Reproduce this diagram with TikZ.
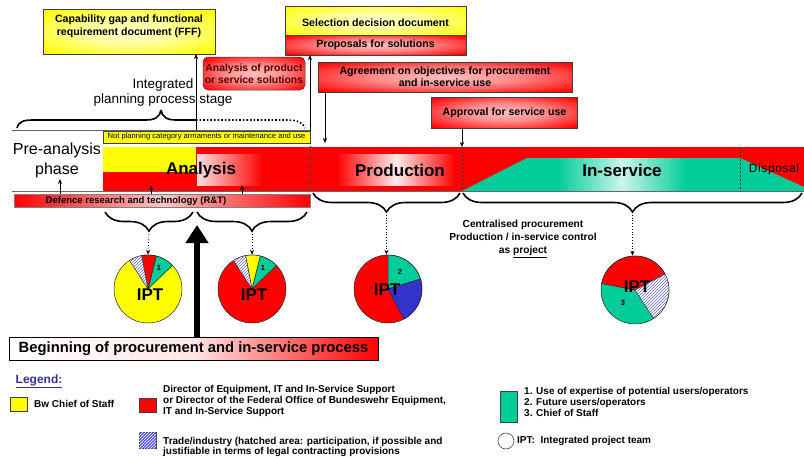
\documentclass[tikz,border=0pt]{standalone}
\usepackage{fontspec}
\setmainfont{Liberation Sans}
\usetikzlibrary{arrows.meta,decorations.pathreplacing,patterns,calc}
\definecolor{cred}{RGB}{255,0,0}
\definecolor{cyel}{RGB}{255,255,0}
\definecolor{cteal}{RGB}{0,204,153}
\definecolor{cblue}{RGB}{51,51,204}
\definecolor{chatch}{RGB}{100,100,190}
\definecolor{clegblue}{RGB}{51,51,153}
\definecolor{cdkred}{RGB}{80,0,0}
\pgfdeclareradialshading{glowy}{\pgfpoint{0bp}{0bp}}{color(0bp)=(cyel!20!white); color(14bp)=(cyel!40!white); color(34bp)=(cyel); color(50bp)=(cyel)}
\pgfdeclareradialshading{glowr}{\pgfpoint{0bp}{0bp}}{color(0bp)=(cred!25!white); color(14bp)=(cred!45!white); color(34bp)=(cred); color(50bp)=(cred)}
\newcommand{\fsz}[2]{\fontsize{#1}{#2}\selectfont}
\newcommand{\pslice}[4]{\filldraw[sl,#4] (#1) -- ++({-(#2)}:34) arc[start angle={-(#2)}, end angle={-(#3)}, radius=34] -- cycle;}
\begin{document}
\begin{tikzpicture}[x=1pt,y=-1pt,
  bx/.style={draw=black!75, line width=0.5pt, inner sep=0pt, outer sep=0pt},
  bt/.style={font=\bfseries\fsz{10.6}{12.5}, align=center, inner sep=0pt},
  lt/.style={font=\bfseries\fsz{10}{10.6}, align=left, inner sep=0pt, anchor=west},
  ylw/.style={shade, shading=glowy},
  rdg/.style={shade, shading=glowr},
  arr/.style={-{Stealth[length=5pt,width=4pt]}, line width=0.6pt},
  brc/.style={decorate, decoration={brace, mirror, amplitude=19pt}, line width=1.6pt},
  dotarr/.style={dotted, line width=0.8pt, -{Stealth[length=5pt,width=4pt]}},
  dsh/.style={dash pattern=on 2pt off 2pt, line width=0.5pt, black!80},
  sl/.style={draw=black!85, line width=0.5pt},
  ph/.style={font=\bfseries\fsz{17}{20}, inner sep=0pt},
  ipt/.style={font=\bfseries\fsz{17}{20}, inner sep=0pt},
  num/.style={font=\bfseries\fsz{7.5}{8}, inner sep=0pt},
  pie/.style={circle, minimum size=68pt, inner sep=0pt, draw=black!85, line width=0.5pt},
  hat/.style={fill=white, postaction={pattern=north east lines, pattern color=chatch}},
]
\useasboundingbox (0,0) rectangle (804,458);

% ---------- top boxes ----------
\node[bx, ylw, minimum width=172pt, minimum height=45pt] (fff) at (129,31.5) {};
\node[bt] (ffft) at (129,26.5) {Capability gap and functional\\requirement document (FFF)};

\node[bx, ylw, minimum width=181pt, minimum height=29pt] (sel) at (375.5,20.5) {};
\node[bt] (selt) at (375.5,23) {Selection decision document};
\node[bx, rdg, minimum width=181pt, minimum height=20pt] (prop) at (375.5,45) {\bfseries\fsz{10.6}{12}Proposals for solutions};

\node[bx, rdg, rounded corners=5pt, minimum width=102pt, minimum height=33pt, text=cdkred, font=\bfseries\fsz{10.4}{12}, align=center] (aps) at (254,73.5) {Analysis of product\\or service solutions};

\node[bx, rdg, minimum width=254pt, minimum height=30pt, font=\bfseries\fsz{10.6}{12}, align=center] (agr) at (445,77) {Agreement on objectives for procurement\\and in-service use};
\node[bx, rdg, minimum width=146pt, minimum height=31pt, font=\bfseries\fsz{10.6}{12}] (appr) at (504.5,112.5) {Approval for service use};

\node[font=\fsz{13.5}{15}, align=center, inner sep=0pt] (ipps) at (163,93) {Integrated\\planning process stage};

% top brace
\draw[line width=1.6pt] (17,128) .. controls (19,121) and (24,120) .. (34,120) -- (146,120) .. controls (155,120) and (160,117) .. (161,110);
\draw[line width=1.6pt] (161,110) .. controls (162,117) and (167,120) .. (176,120) -- (196,120);
\draw[line width=1.6pt, dotted] (196,120) -- (288,120) .. controls (298,120) and (303,123) .. (305,128);

% guide lines
\draw[black!60, line width=0.6pt] (12,130) -- (310,130);
\node[bx, fill=cyel, minimum width=207pt, minimum height=12pt, font=\fsz{7.6}{8}] (npc) at (206.5,137) {Not planning category armaments or maintenance and use};

% ---------- band ----------
\fill[cred] (103,147) rectangle (804,191);
\fill[cyel] (103,147) rectangle (196,172);
\shade[left color=red!12!white, right color=cred] (197,154) rectangle (263,185);
\shade[left color=cred, right color=cred, middle color=red!8!white] (337,154) rectangle (455,185);
\fill[cteal] (462,191) -- (527,158) -- (740,158) -- (740,191) -- cycle;
\shade[left color=cteal, right color=cteal, middle color=cteal!20!white] (557,158) rectangle (687,191);
\fill[cteal] (740,158) -- (804,187) -- (804,191) -- (740,191) -- cycle;
\draw[black!60, line width=0.6pt] (12,191) -- (804,191);
\draw[dsh] (310,130) -- (310,191);
\draw[dsh] (462,147) -- (462,191);
\draw[dsh] (740,147) -- (740,191);

\node[font=\fsz{16}{20}, align=center, inner sep=0pt] (pre) at (57,160) {Pre-analysis\\phase};
\node[ph] (ana) at (201,170) {Analysis};
\node[ph] (prod) at (400,170) {Production};
\node[ph] (insv) at (622,170) {In-service};
\node[font=\fsz{12}{14}\addfontfeature{LetterSpace=5}, inner sep=0pt] (disp) at (774,169) {Disposal};

% arrows from top boxes
\coordinate (c196) at (196,130);
\coordinate (c310) at (310,130);
\coordinate (c325) at (325,143);
\coordinate (c462) at (462,147);
\draw[arr] (c196) -- (c196 |- fff.south);
\draw[arr] (c310) -- (c310 |- prop.south);
\draw[arr] (agr.south -| c325) -- (c325);
\draw[arr] (appr.south -| c462) -- (c462);

% ---------- R&T ----------
\node[bx, draw=black!50, left color=cred, right color=cred, middle color=red!22!white, minimum width=296pt, minimum height=13pt] (rt) at (162,200.5) {};
\node[font=\bfseries\fsz{9.5}{10}, inner sep=0pt] (rtt) at (136,201) {Defence research and technology (R\&T)};
\coordinate (a0) at (60,179);
\coordinate (a1) at (151,185);
\coordinate (a2) at (242,185);
\draw[arr] (rt.north -| a0) -- (a0);
\draw[arr] (rt.north -| a1) -- (a1);
\draw[arr] (rt.north -| a2) -- (a2);

% ---------- braces ----------
\draw[brc] (105,212) -- (193,212);
\draw[brc] (197,212) -- (307,212);
\draw[brc] (313,193) -- (460,193);
\draw[brc] (463,193) -- (802,193);
\coordinate (tA) at (149,231);
\coordinate (tB) at (252,231);
\coordinate (tC) at (386.5,212);
\coordinate (tD) at (632.5,212);

% ---------- pies ----------
\node[pie, fill=cyel] (pie1) at (148,289) {};
\pslice{pie1.center}{44}{76}{fill=cteal}
\pslice{pie1.center}{76}{101}{fill=cred}
\pslice{pie1.center}{101}{123}{hat}
\node[ipt] (ipt1) at (150,295) {IPT};
\node[num] (n1) at (159,268) {1};

\node[pie, fill=cred] (pie2) at (252,289) {};
\pslice{pie2.center}{44}{76}{fill=cteal}
\pslice{pie2.center}{76}{101}{fill=cyel}
\pslice{pie2.center}{101}{123}{hat}
\node[ipt] (ipt2) at (254,295) {IPT};
\node[num] (n2) at (263,268) {1};

\node[pie, fill=cred] (pie3) at (388,289) {};
\pslice{pie3.center}{17}{90}{fill=cteal}
\pslice{pie3.center}{-62}{17}{fill=cblue}
\node[ipt] (ipt3) at (387,290) {IPT};
\node[num] (n3) at (400,272) {2};

\node[pie, fill=cteal] (pie4) at (635,290) {};
\pslice{pie4.center}{28}{169}{fill=cred}
\pslice{pie4.center}{-57}{28}{hat}
\node[ipt] (ipt4) at (637,287) {IPT};
\node[num] (n4) at (623,303) {3};

\draw[dotarr] (tA) -- (pie1.north);
\draw[dotarr] (tB) -- (pie2.north);
\draw[dotarr] (tC) -- (pie3.north -| tC);
\draw[dotarr] (tD) -- (pie4.north -| tD);

\node[font=\bfseries\fsz{10.2}{13}, align=center, inner sep=0pt] (cent) at (523,239) {Centralised procurement\\Production / in-service control\\as \underline{project}};

% ---------- beginning ----------
\node[bx, draw=black, left color=white, right color=cred, middle color=red!10!white, minimum width=369pt, minimum height=23pt, font=\bfseries\fsz{14.8}{16}] (beg) at (193.5,348.5) {Beginning of procurement and in-service process};
\coordinate (tipbig) at (197,225);
\draw[line width=6.5pt, -{Triangle[length=18pt,width=22pt]}] (beg.north -| tipbig) -- (tipbig);

% ---------- legend ----------
\node[font=\bfseries\fsz{12}{14}, text=clegblue, inner sep=0pt] (leg) at (39,381) {\underline{Legend:}};
\node[bx, fill=cyel, minimum width=17pt, minimum height=14pt] (ly) at (18.5,404) {};
\node[lt] (lyt) at (34,403.5) {Bw Chief of Staff};
\node[bx, fill=cred, minimum width=17pt, minimum height=14pt] (lr) at (147.5,405) {};
\node[lt] (lrt) at (163,401) {Director of Equipment, IT and In-Service Support\\or Director of the Federal Office of Bundeswehr Equipment,\\IT and In-Service Support};
\node[bx, fill=blue!65!white, postaction={pattern=north east lines, pattern color=white}, minimum width=17pt, minimum height=16pt] (lh) at (147.5,440) {};
\node[lt] (lht) at (163,447) {Trade/industry (hatched area: participation, if possible and\\justifiable in terms of legal contracting provisions};
\node[bx, fill=cteal, minimum width=17pt, minimum height=31pt] (ltl) at (508.5,406.5) {};
\node[lt] (ltt) at (524,402) {1. Use of expertise of potential users/operators\\2. Future users/operators\\3. Chief of Staff};
\node[circle, draw=black!70, line width=0.6pt, minimum size=16pt, inner sep=0pt] (lc) at (506,441) {};
\node[lt] (lct) at (517,441) {IPT:\ \ Integrated project team};
\end{tikzpicture}
\end{document}
